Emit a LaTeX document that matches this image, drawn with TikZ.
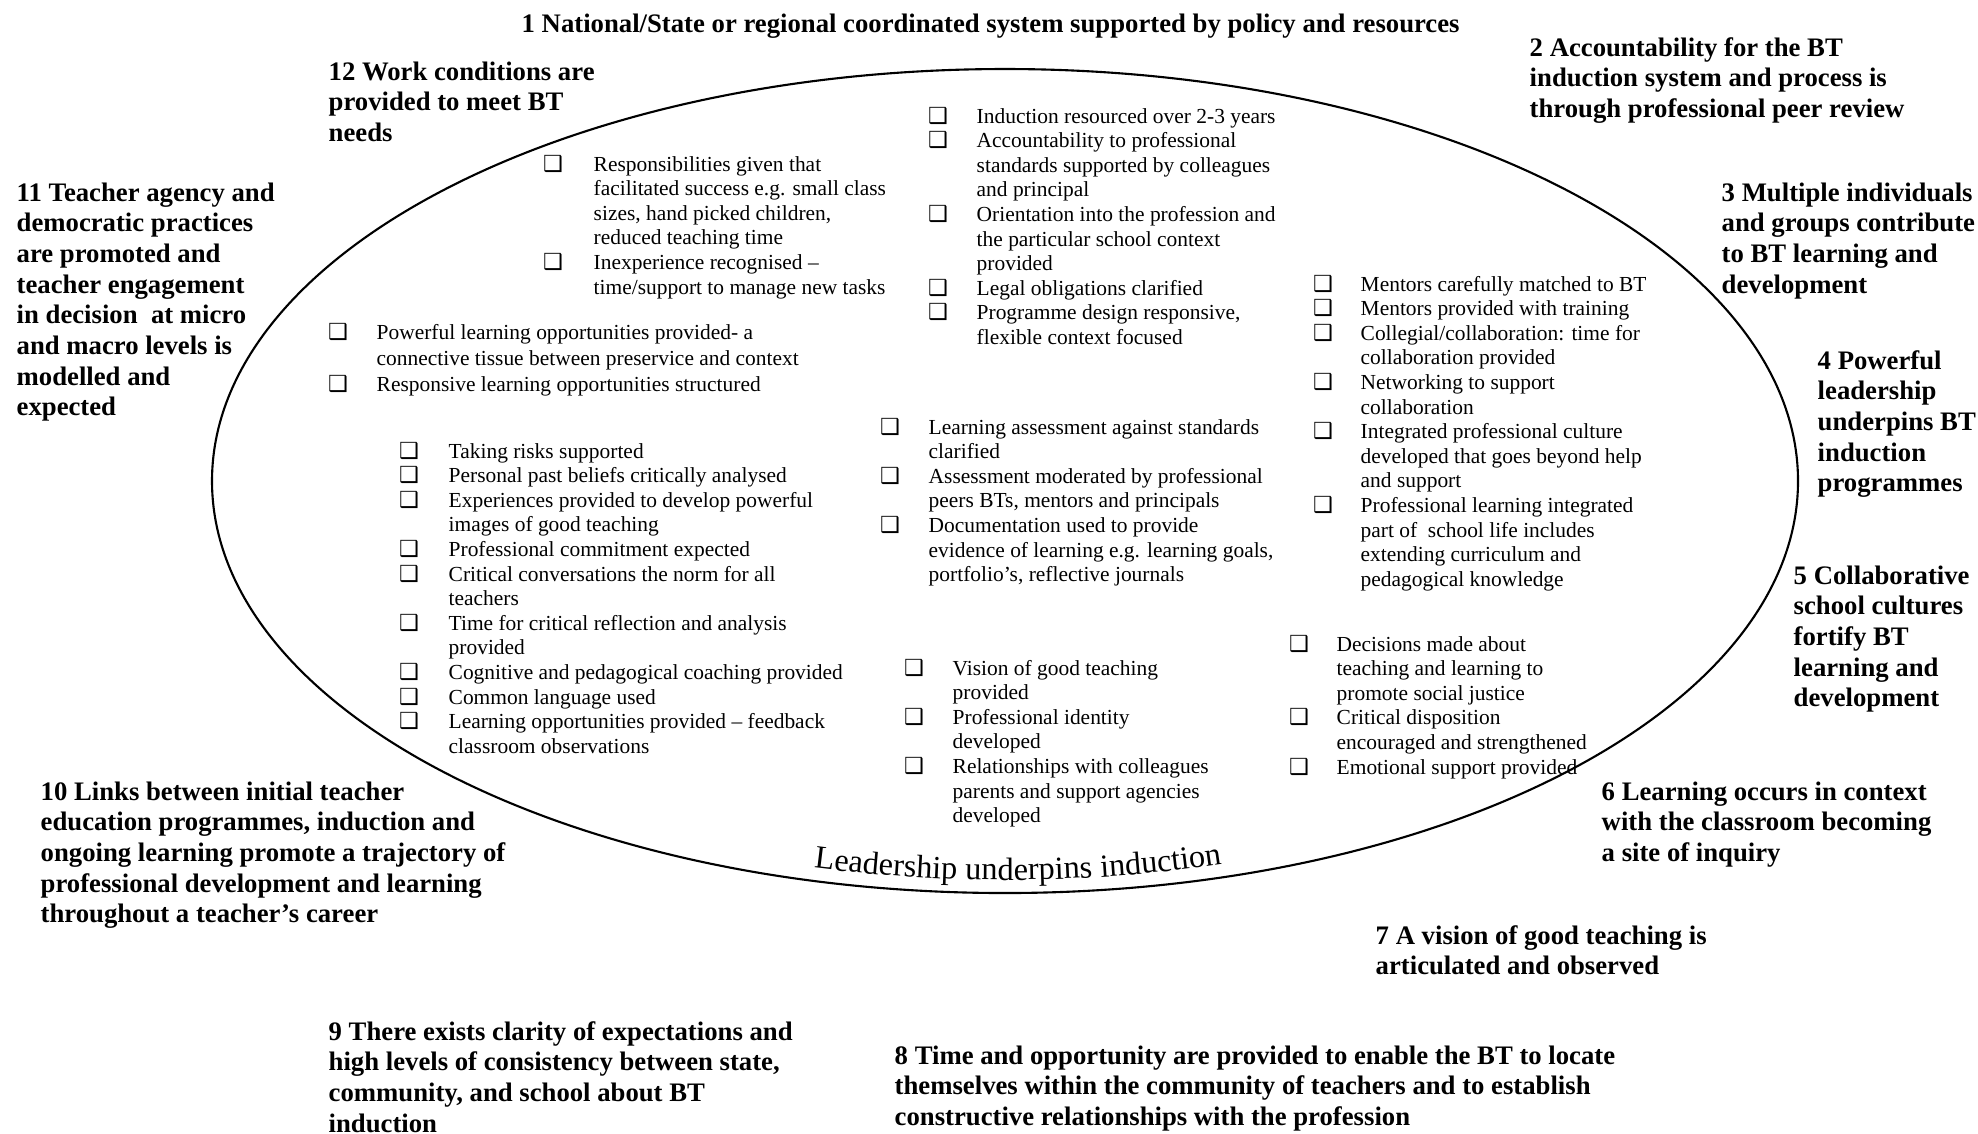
\documentclass[tikz,border=0pt]{standalone}
\usepackage{fontspec}
\setmainfont{Liberation Serif}
\newfontfamily\dejavu{DejaVu Sans}
\usetikzlibrary{decorations.text}

\newcommand{\cb}{\hspace*{-0.35mm}{\dejavu\bfseries\fontsize{6.3}{7}\selectfont\char"2751}}

\begin{document}
\begin{tikzpicture}[
	lbl/.style={anchor=base west, inner sep=0pt, font=\fontsize{7.6}{8.73}\selectfont\bfseries},
	lst/.style={anchor=base west, inner sep=0pt, font=\fontsize{6.1}{7}\selectfont}]
	\useasboundingbox (0,0) rectangle (19.78,-11.33);
	
	\coordinate (ctr) at (10.05,-4.81);
	\draw[line width=0.6pt] (ctr) ellipse [x radius=7.93, y radius=4.12];
	\path[decorate, decoration={text along path, text align=center,
		text={|\fontsize{9.2}{11}\selectfont|Leadership underpins induction}}]
		(ctr) ++(253:7.80 and 3.99) arc [start angle=253, end angle=289, x radius=7.80, y radius=3.99];
	
	% outer labels
	\node[lbl] (t1) at (5.21,-0.32) {\begin{tabular}[t]{@{}l@{}}1 National/State or regional coordinated system supported by policy and resources\end{tabular}};
	\node[lbl] (l2) at (15.29,-0.56) {\begin{tabular}[t]{@{}l@{}}2 Accountability for the BT\\ induction system and process is\\ through professional peer review\end{tabular}};
	\node[lbl] (l3) at (17.21,-2.01) {\begin{tabular}[t]{@{}l@{}}3 Multiple individuals\\ and groups contribute\\ to BT learning and\\ development\end{tabular}};
	\node[lbl] (l4) at (18.17,-3.69) {\begin{tabular}[t]{@{}l@{}}4 Powerful\\ leadership\\ underpins BT\\ induction\\ programmes\end{tabular}};
	\node[lbl] (l5) at (17.93,-5.84) {\begin{tabular}[t]{@{}l@{}}5 Collaborative\\ school cultures\\ fortify BT\\ learning and\\ development\end{tabular}};
	\node[lbl] (l6) at (16.01,-8.00) {\begin{tabular}[t]{@{}l@{}}6 Learning occurs in context\\ with the classroom becoming\\ a site of inquiry\end{tabular}};
	\node[lbl] (l7) at (13.75,-9.44) {\begin{tabular}[t]{@{}l@{}}7 A vision of good teaching is\\ articulated and observed\end{tabular}};
	\node[lbl] (l8) at (8.94,-10.64) {\begin{tabular}[t]{@{}l@{}}8 Time and opportunity are provided to enable the BT to locate\\ themselves within the community of teachers and to establish\\ constructive relationships with the profession\end{tabular}};
	\node[lbl] (l9) at (3.28,-10.40) {\begin{tabular}[t]{@{}l@{}}9 There exists clarity of expectations and\\ high levels of consistency between state,\\ community, and school about BT\\ induction\end{tabular}};
	\node[lbl] (l10) at (0.40,-8.00) {\begin{tabular}[t]{@{}l@{}}10 Links between initial teacher\\ education programmes, induction and\\ ongoing learning promote a trajectory of\\ professional development and learning\\ throughout a teacher’s career\end{tabular}};
	\node[lbl] (l11) at (0.16,-2.01) {\begin{tabular}[t]{@{}l@{}}11 Teacher agency and\\ democratic practices\\ are promoted and\\ teacher engagement\\ in decision\ \ at micro\\ and macro levels is\\ modelled and\\ expected\end{tabular}};
	\node[lbl] (l12) at (3.28,-0.80) {\begin{tabular}[t]{@{}l@{}}12 Work conditions are\\ provided to meet BT\\ needs\end{tabular}};
	
	% lists inside the ellipse
	\node[lst] (la) at (5.46,-1.71) {\begin{tabular}[t]{@{}p{0.47cm}@{}l@{}}
		\cb & Responsibilities given that\\ & facilitated success e.g. small class\\ & sizes, hand picked children,\\ & reduced teaching time\\
		\cb & Inexperience recognised –\\ & time/support to manage new tasks\end{tabular}};
	\node[lst] (lb) at (9.31,-1.23) {\begin{tabular}[t]{@{}p{0.45cm}@{}l@{}}
		\cb & Induction resourced over 2-3 years\\
		\cb & Accountability to professional\\ & standards supported by colleagues\\ & and principal\\
		\cb & Orientation into the profession and\\ & the particular school context\\ & provided\\
		\cb & Legal obligations clarified\\
		\cb & Programme design responsive,\\ & flexible context focused\end{tabular}};
	\node[lst, font=\fontsize{6.1}{7.5}\selectfont] (lc) at (3.31,-3.39) {\begin{tabular}[t]{@{}p{0.45cm}@{}l@{}}
		\cb & Powerful learning opportunities provided- a\\ & connective tissue between preservice and context\\
		\cb & Responsive learning opportunities structured\end{tabular}};
	\node[lst] (ld) at (4.02,-4.58) {\begin{tabular}[t]{@{}p{0.46cm}@{}l@{}}
		\cb & Taking risks supported\\
		\cb & Personal past beliefs critically analysed\\
		\cb & Experiences provided to develop powerful\\ & images of good teaching\\
		\cb & Professional commitment expected\\
		\cb & Critical conversations the norm for all\\ & teachers\\
		\cb & Time for critical reflection and analysis\\ & provided\\
		\cb & Cognitive and pedagogical coaching provided\\
		\cb & Common language used\\
		\cb & Learning opportunities provided – feedback\\ & classroom observations\end{tabular}};
	\node[lst] (le) at (8.83,-4.34) {\begin{tabular}[t]{@{}p{0.45cm}@{}l@{}}
		\cb & Learning assessment against standards\\ & clarified\\
		\cb & Assessment moderated by professional\\ & peers BTs, mentors and principals\\
		\cb & Documentation used to provide\\ & evidence of learning e.g. learning goals,\\ & portfolio’s, reflective journals\end{tabular}};
	\node[lst] (lf) at (13.16,-2.91) {\begin{tabular}[t]{@{}p{0.44cm}@{}l@{}}
		\cb & Mentors carefully matched to BT\\
		\cb & Mentors provided with training\\
		\cb & Collegial/collaboration: time for\\ & collaboration provided\\
		\cb & Networking to support\\ & collaboration\\
		\cb & Integrated professional culture\\ & developed that goes beyond help\\ & and support\\
		\cb & Professional learning integrated\\ & part of\ \ school life includes\\ & extending curriculum and\\ & pedagogical knowledge\end{tabular}};
	\node[lst] (lg) at (9.07,-6.75) {\begin{tabular}[t]{@{}p{0.45cm}@{}l@{}}
		\cb & Vision of good teaching\\ & provided\\
		\cb & Professional identity\\ & developed\\
		\cb & Relationships with colleagues\\ & parents and support agencies\\ & developed\end{tabular}};
	\node[lst] (lh) at (12.92,-6.51) {\begin{tabular}[t]{@{}p{0.44cm}@{}l@{}}
		\cb & Decisions made about\\ & teaching and learning to\\ & promote social justice\\
		\cb & Critical disposition\\ & encouraged and strengthened\\
		\cb & Emotional support provided\end{tabular}};
\end{tikzpicture}
\end{document}
